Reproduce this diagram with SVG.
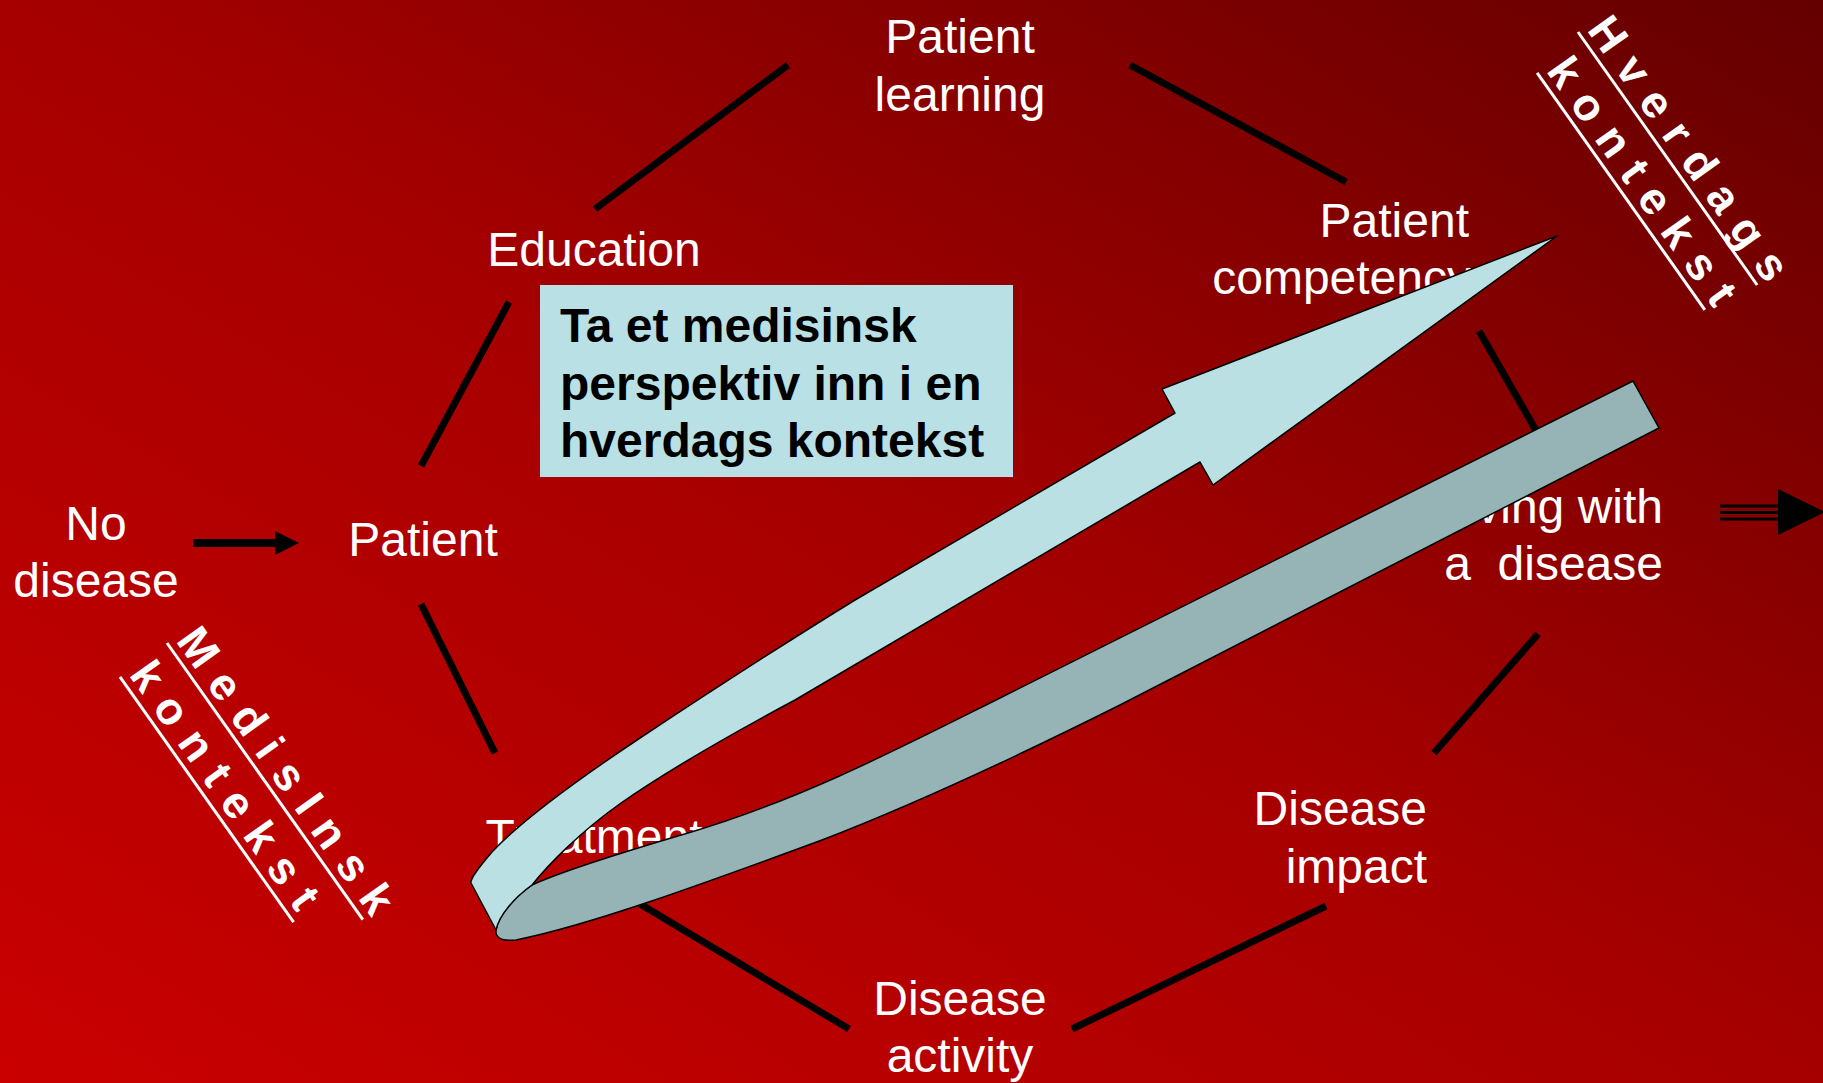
<svg xmlns="http://www.w3.org/2000/svg" width="1823" height="1083" viewBox="0 0 1823 1083">
<defs>
  <linearGradient id="bg" x1="0" y1="1" x2="1" y2="0">
    <stop offset="0" stop-color="#CA0000"/>
    <stop offset="0.5" stop-color="#A60000"/>
    <stop offset="1" stop-color="#640000"/>
  </linearGradient>
  <marker id="head" markerUnits="userSpaceOnUse" markerWidth="24" markerHeight="24" refX="0" refY="12" orient="auto">
    <path d="M0,0 L24,12 L0,24 Z" fill="#000"/>
  </marker>
</defs>
<style>
  .lbl{font-family:"Liberation Sans",Arial,sans-serif;font-size:48px;fill:#fff}
  .mid{text-anchor:middle}
  .end{text-anchor:end}
  .conn{stroke:#000;stroke-width:7;fill:none}
  .box{fill:#B9E0E4}
  .boxtxt{font-family:"Liberation Sans",Arial,sans-serif;font-size:48px;font-weight:bold;fill:#000}
  .rot{font-family:"Liberation Sans",Arial,sans-serif;font-size:45px;font-weight:bold;fill:#fff;letter-spacing:15.3px}
  .uline{stroke:#fff;stroke-width:3}
  .front{fill:#BAE0E4;stroke:#000;stroke-width:1.5;stroke-linejoin:round}
  .back{fill:#96B3B6;stroke:#000;stroke-width:1.5;stroke-linejoin:round}
</style>

<rect id="background" x="0" y="0" width="1823" height="1083" fill="url(#bg)"/>

<g id="connectors">
  <line class="conn" x1="421" y1="466" x2="509" y2="302"/>
  <line class="conn" x1="595" y1="209" x2="788" y2="65"/>
  <line class="conn" x1="1130" y1="65" x2="1346" y2="182"/>
  <line class="conn" x1="1479" y1="331" x2="1538" y2="434"/>
  <line class="conn" x1="1538" y1="634" x2="1434" y2="753"/>
  <line class="conn" x1="1326" y1="906" x2="1072" y2="1029"/>
  <line class="conn" x1="849" y1="1029" x2="640" y2="904"/>
  <line class="conn" x1="495" y1="753" x2="421" y2="604"/>
  <line x1="193" y1="543" x2="275" y2="543" stroke="#000" stroke-width="8" marker-end="url(#head)"/>
  <g id="exit-arrow">
    <line x1="1720" y1="506" x2="1780" y2="506" stroke="#000" stroke-width="3"/>
    <line x1="1720" y1="512.5" x2="1780" y2="512.5" stroke="#000" stroke-width="3"/>
    <line x1="1720" y1="519" x2="1780" y2="519" stroke="#000" stroke-width="3"/>
    <polygon points="1778,489 1825,512 1778,535" fill="#000"/>
  </g>
</g>

<g id="node-no-disease">
  <text class="lbl mid" x="96" y="540">No</text>
  <text class="lbl mid" x="96" y="597">disease</text>
</g>
<g id="node-patient">
  <text class="lbl mid" x="423" y="556">Patient</text>
</g>
<g id="node-education">
  <text class="lbl mid" x="594" y="266">Education</text>
</g>
<g id="node-patient-learning">
  <text class="lbl mid" x="960" y="53">Patient</text>
  <text class="lbl mid" x="960" y="111">learning</text>
</g>
<g id="node-patient-competency">
  <text class="lbl end" x="1469" y="237">Patient</text>
  <text class="lbl end" x="1471" y="294">competency</text>
</g>
<g id="node-living">
  <text class="lbl end" x="1663" y="523">Living with</text>
  <text class="lbl end" x="1663" y="580" xml:space="preserve">a  disease</text>
</g>
<g id="node-disease-impact">
  <text class="lbl end" x="1427" y="825">Disease</text>
  <text class="lbl end" x="1427" y="883">impact</text>
</g>
<g id="node-disease-activity">
  <text class="lbl mid" x="960" y="1015">Disease</text>
  <text class="lbl mid" x="960" y="1072">activity</text>
</g>
<g id="node-treatment">
  <text class="lbl mid" x="594" y="853">Treatment</text>
</g>

<g id="callout-box">
  <rect class="box" x="540" y="285" width="473" height="192"/>
  <text class="boxtxt" x="560" y="342">Ta et medisinsk</text>
  <text class="boxtxt" x="560" y="400">perspektiv inn i en</text>
  <text class="boxtxt" x="560" y="457">hverdags kontekst</text>
</g>

<g id="ribbon-arrow">
  <path class="back" d="M1633,381 L996,700 C900,748 800,800 688,833 C620,853 560,872 532,885 C515,897 499,915 496,930 C495,940 505,941 516,940 C590,925 700,885 822,840 C900,810 1000,765 1120,705 L1659,428 Z"/>
  <path class="front" d="M1557,236 L1162,389 L1175,413 L855,600 C790,640 720,685 640,738 C580,778 520,822 492,852 C480,866 470,878 471,883 L496,930 C499,915 515,897 532,885 C548,865 580,832 621,803 C660,776 720,740 795,700 L1200,462 L1213,485 Z"/>
</g>

<g id="label-medisinsk" transform="translate(167,643) rotate(54.7)">
  <text class="rot" x="3" y="-8">MedisInsk</text>
  <line class="uline" x1="0" y1="0" x2="339" y2="0"/>
  <text class="rot" x="3.5" y="50">kontekst</text>
  <line class="uline" x1="0.5" y1="58" x2="301" y2="58"/>
</g>

<g id="label-hverdags" transform="translate(1578,32) rotate(54.7)">
  <text class="rot" x="3" y="-8">Hverdags</text>
  <line class="uline" x1="0" y1="0" x2="310" y2="0"/>
  <text class="rot" x="12.8" y="49">kontekst</text>
  <line class="uline" x1="9.8" y1="57" x2="300" y2="57"/>
</g>
</svg>
